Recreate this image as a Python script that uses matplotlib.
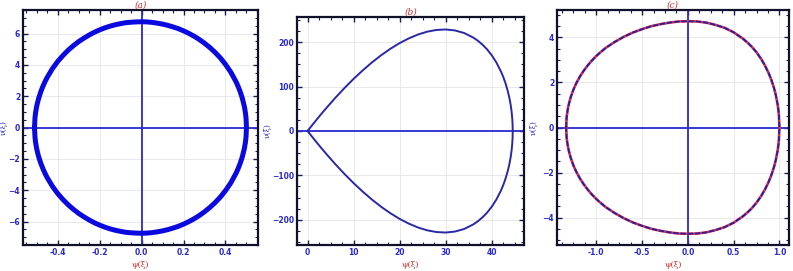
import numpy as np
import matplotlib
matplotlib.use("Agg")
import matplotlib.pyplot as plt
from matplotlib.ticker import AutoMinorLocator

# ---- data (upper halves; orbits are symmetric in nu) ----
psi_a = [-0.510, -0.508, -0.505, -0.500, -0.495, -0.490, -0.480, -0.470, -0.460, -0.450,
         -0.425, -0.400, -0.375, -0.350, -0.325, -0.300, -0.275, -0.250, -0.225, -0.200,
         -0.175, -0.150, -0.125, -0.100, -0.075, -0.050, -0.025, 0.0, 0.025, 0.050, 0.075,
         0.100, 0.125, 0.150, 0.175, 0.200, 0.225, 0.250, 0.275, 0.300, 0.325, 0.350,
         0.375, 0.400, 0.425, 0.450, 0.460, 0.470, 0.480, 0.490, 0.495, 0.498, 0.500]
nu_a = [0.0, 0.60, 0.95, 1.34, 1.63, 1.88, 2.29, 2.63, 2.93, 3.19,
        3.75, 4.21, 4.59, 4.93, 5.22, 5.48, 5.70, 5.90, 6.08, 6.23,
        6.36, 6.47, 6.56, 6.63, 6.69, 6.72, 6.74, 6.75, 6.74, 6.71, 6.66,
        6.60, 6.52, 6.42, 6.31, 6.17, 6.01, 5.83, 5.62, 5.38, 5.11, 4.80,
        4.45, 4.03, 3.54, 2.93, 2.63, 2.29, 1.88, 1.34, 0.95, 0.60, 0.0]

psi_b = [0, 0.5, 1, 2, 3, 4, 6, 8, 10, 12, 14, 16, 18, 20, 22, 24, 26, 28, 30, 32, 34,
         36, 37, 38, 39, 40, 41, 42, 42.5, 43, 43.5, 43.8, 44.1, 44.3, 44.45, 44.52, 44.55]
nu_b = [0, 6.6, 13.2, 26.1, 38.7, 50.9, 74.5, 96.7, 117.6, 136.9, 154.8, 171.0, 185.5,
        198.2, 208.9, 217.6, 224.0, 227.8, 228.9, 226.7, 220.9, 210.5, 203.3, 194.5,
        183.8, 170.6, 154.5, 134.1, 121.7, 107.1, 89.1, 75.9, 59.2, 44.3, 28.1, 15.4, 0]

psi_c = [-1.33, -1.325, -1.32, -1.31, -1.30, -1.28, -1.25, -1.22, -1.18, -1.14, -1.10,
         -1.05, -1.00, -0.95, -0.90, -0.80, -0.70, -0.60, -0.50, -0.40, -0.30, -0.20,
         -0.10, 0.0, 0.10, 0.20, 0.30, 0.40, 0.50, 0.60, 0.65, 0.70, 0.75, 0.80, 0.84,
         0.88, 0.91, 0.94, 0.96, 0.98, 0.99, 0.995, 1.0]
nu_c = [0.0, 0.44, 0.61, 0.86, 1.05, 1.35, 1.69, 1.96, 2.26, 2.51, 2.73,
        2.97, 3.18, 3.36, 3.53, 3.80, 4.03, 4.22, 4.37, 4.50, 4.59, 4.66,
        4.71, 4.72, 4.71, 4.66, 4.56, 4.43, 4.23, 3.95, 3.78, 3.58, 3.34, 3.05, 2.77,
        2.44, 2.14, 1.77, 1.46, 1.04, 0.74, 0.53, 0.0]

titles = ["(a)", "(b)", "(c)"]
xticks_a = [-0.4, -0.2, 0.0, 0.2, 0.4]
yticks_a = [-6, -4, -2, 0, 2, 4, 6]
xticks_b = [0, 10, 20, 30, 40]
yticks_b = [-200, -100, 0, 100, 200]
xticks_c = [-1.0, -0.5, 0.0, 0.5, 1.0]
yticks_c = [-4, -2, 0, 2, 4]


def closed(px, py):
    px = np.asarray(px, float); py = np.asarray(py, float)
    x = np.concatenate([px, px[::-1]])
    y = np.concatenate([py, -py[::-1]])
    return x, y


W, H = 793, 271
fig = plt.figure(figsize=(W / 100, H / 100), dpi=100)

BLUE = "#2a2ad0"
RED = "#d03030"

boxes = [
    (23, 258, 10, 245),
    (297, 524, 17, 245),
    (557, 789, 10, 245),
]
ylabel_x = [-0.066, -0.112, -0.082]
axes = []
for (l, r, t, b) in boxes:
    ax = fig.add_axes([l / W, (H - b) / H, (r - l) / W, (b - t) / H])
    axes.append(ax)

# panel a
ax = axes[0]
x, y = closed(psi_a, nu_a)
ax.axhline(0, color=BLUE, lw=1.3, zorder=2)
ax.axvline(0, color=BLUE, lw=1.3, zorder=2)
ax.plot(x, y, color="#0a0ae0", lw=3.6, zorder=3, solid_joinstyle="round")
ax.set_xlim(-0.565, 0.555)
ax.set_ylim(-7.5, 7.5)
ax.set_xticks(xticks_a); ax.set_yticks(yticks_a)
ax.set_xticklabels([f"{v:.1f}" for v in xticks_a])

# panel b
ax = axes[1]
x, y = closed(psi_b, nu_b)
ax.axhline(0, color=BLUE, lw=1.3, zorder=2)
ax.plot(x, y, color="#2828a8", lw=1.4, zorder=3)
ax.set_xlim(-2.3, 47.0)
ax.set_ylim(-257, 257)
ax.set_xticks(xticks_b); ax.set_yticks(yticks_b)

# panel c
ax = axes[2]
x, y = closed(psi_c, nu_c)
ax.axhline(0, color=BLUE, lw=1.3, zorder=2)
ax.axvline(0, color=BLUE, lw=1.3, zorder=2)
ax.plot(x, y, color="#e03050", lw=1.9, zorder=3)
ax.plot(x, y, color="#2020a0", lw=1.3, zorder=4, dashes=(3, 1))
ax.set_xlim(-1.43, 1.105)
ax.set_ylim(-5.22, 5.22)
ax.set_xticks(xticks_c); ax.set_yticks(yticks_c)
ax.set_xticklabels([f"{v:.1f}" for v in xticks_c])

for i, ax in enumerate(axes):
    ax.grid(True, color="#e4e4ea", lw=0.6, zorder=0)
    ax.xaxis.set_minor_locator(AutoMinorLocator(4))
    ax.yaxis.set_minor_locator(AutoMinorLocator(4))
    ax.tick_params(which="both", direction="in", top=True, right=True,
                   color="#1a1a50", labelsize=5.5, labelcolor=BLUE, pad=2)
    ax.tick_params(which="major", length=3.5, width=1.0)
    ax.tick_params(which="minor", length=2, width=0.8)
    for lab in ax.get_xticklabels() + ax.get_yticklabels():
        lab.set_fontweight("bold")
    for s in ax.spines.values():
        s.set_color("#10102a")
        s.set_linewidth(1.6)
    ax.set_title(titles[i], color=RED, fontsize=6.5, style="italic",
                 family="DejaVu Serif", pad=2)
    ax.set_xlabel("ψ(ξ)", color=RED, fontsize=6, labelpad=3, family="DejaVu Serif")
    ax.set_ylabel("ν(ξ)", color=BLUE, fontsize=5.5, family="DejaVu Serif")
    ax.yaxis.set_label_coords(ylabel_x[i], 0.5)

fig.savefig("out.png", dpi=100)
